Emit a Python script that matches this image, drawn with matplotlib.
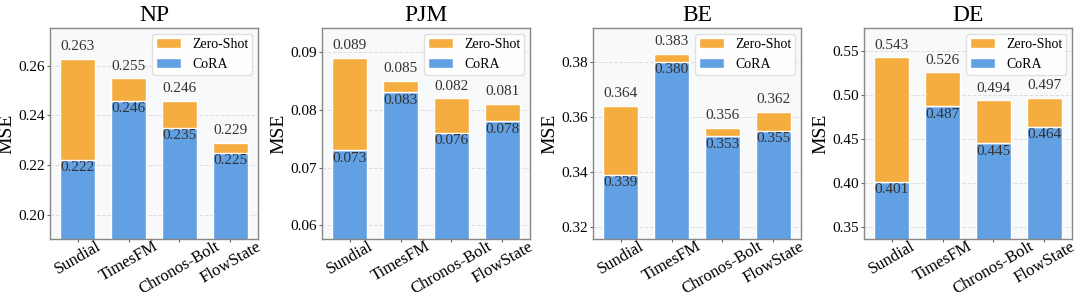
import matplotlib
matplotlib.use("Agg")
import matplotlib.pyplot as plt
import numpy as np

plt.rcParams['font.family'] = ['Liberation Serif', 'DejaVu Serif']

models = ["Sundial", "TimesFM", "Chronos-Bolt", "FlowState"]
datasets = ["NP", "PJM", "BE", "DE"]

zero_shot_np = [0.263, 0.255, 0.246, 0.229]
cora_np = [0.222, 0.246, 0.235, 0.225]
zero_shot_pjm = [0.089, 0.085, 0.082, 0.081]
cora_pjm = [0.073, 0.083, 0.076, 0.078]
zero_shot_be = [0.364, 0.383, 0.356, 0.362]
cora_be = [0.339, 0.380, 0.353, 0.355]
zero_shot_de = [0.543, 0.526, 0.494, 0.497]
cora_de = [0.401, 0.487, 0.445, 0.464]

zero_shot_all = [zero_shot_np, zero_shot_pjm, zero_shot_be, zero_shot_de]
cora_all = [cora_np, cora_pjm, cora_be, cora_de]

ylims = [(0.190, 0.2752), (0.0576, 0.0941), (0.3155, 0.3923), (0.336, 0.5758)]
yticks = [[0.20, 0.22, 0.24, 0.26], [0.06, 0.07, 0.08, 0.09],
          [0.32, 0.34, 0.36, 0.38], [0.35, 0.40, 0.45, 0.50, 0.55]]

orange = '#F5AD3F'
blue = '#62A0E4'
text_col = '#333333'

fig = plt.figure(figsize=(10.8, 3.02), dpi=100)
lefts = [50, 322, 593, 864]
W = 1080.0
H = 302.0
ax_w = 208 / W
bottom = 1 - 239.3 / H
height = (239.3 - 28.3) / H

x = np.arange(len(models))
for i, ds in enumerate(datasets):
    ax = fig.add_axes([lefts[i] / W, bottom, ax_w, height])
    ax.set_facecolor('#F8F9FB')
    zs = np.array(zero_shot_all[i])
    cr = np.array(cora_all[i])
    ax.set_axisbelow(True)
    ax.grid(axis='y', linestyle='--', color='#DDDDDD', linewidth=0.7)
    b1 = ax.bar(x, cr, width=0.7, color=blue, edgecolor='white', linewidth=1.0, label='CoRA', zorder=2)
    b2 = ax.bar(x, zs - cr, bottom=cr, width=0.7, color=orange, edgecolor='white', linewidth=1.0, label='Zero-Shot', zorder=2)
    for xi, z, c in zip(x, zs, cr):
        ax.annotate(f"{z:.3f}", (xi, z), xytext=(0, 4), textcoords='offset points',
                    ha='center', va='bottom', fontsize=11, color=text_col)
        ax.annotate(f"{c:.3f}", (xi, c), xytext=(0, -1), textcoords='offset points',
                    ha='center', va='top', fontsize=11, color=text_col, zorder=3)
    ax.set_xlim(-0.54, 3.54)
    ax.set_ylim(*ylims[i])
    ax.set_yticks(yticks[i])
    ax.set_yticklabels([f"{t:.2f}" for t in yticks[i]], fontsize=11)
    ax.set_xticks(x)
    ax.set_xticklabels(models, rotation=30, ha='center', fontsize=12)
    ax.tick_params(axis='both', colors='#666666', labelcolor='black', length=2.5, width=0.8)
    ax.tick_params(axis='x', pad=-3)
    ax.tick_params(axis='y', pad=1)
    for s in ax.spines.values():
        s.set_color('#888888')
        s.set_linewidth(1.0)
    ax.set_ylabel('MSE', fontsize=14, labelpad=2)
    ax.set_title(ds, fontsize=17, pad=5)
    leg = ax.legend(handles=[b2, b1], labels=['Zero-Shot', 'CoRA'], loc='upper right',
                    fontsize=10, frameon=True, fancybox=True, handlelength=1.8,
                    handleheight=0.7, handletextpad=0.8, borderpad=0.3,
                    labelspacing=0.5, borderaxespad=0.4)
    leg.get_frame().set_edgecolor('#DDDDDD')
    leg.get_frame().set_facecolor('white')
    leg.get_frame().set_alpha(0.9)

fig.savefig('out.png', dpi=100)
